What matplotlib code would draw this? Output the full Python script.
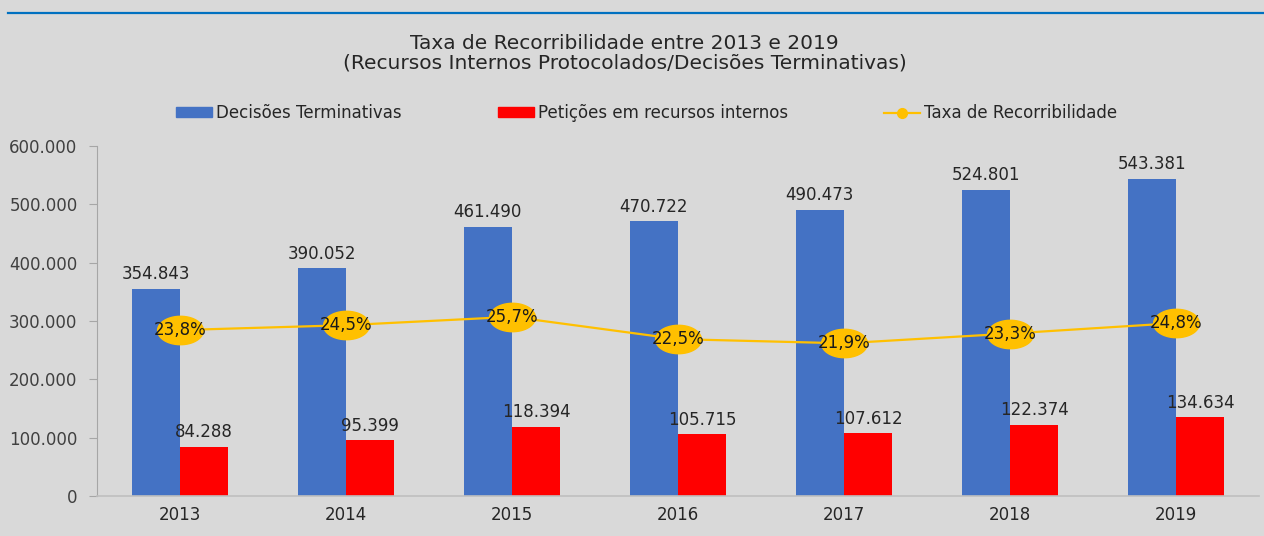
import matplotlib
matplotlib.use("Agg")
import matplotlib.pyplot as plt
from matplotlib.path import Path
from matplotlib.lines import Line2D
from matplotlib.ticker import FuncFormatter
import numpy as np

anos = ["2013", "2014", "2015", "2016", "2017", "2018", "2019"]
decisoes = [354843, 390052, 461490, 470722, 490473, 524801, 543381]
peticoes = [84288, 95399, 118394, 105715, 107612, 122374, 134634]
taxa = [23.8, 24.5, 25.7, 22.5, 21.9, 23.3, 24.8]

AZUL = "#4472C4"
VERMELHO = "#FF0000"
AMARELO = "#FFC000"
FUNDO = "#D9D9D9"


def milhar(v):
    return "{:,}".format(int(v)).replace(",", ".")


# marcador em forma de elipse (mais largo que alto)
t = np.linspace(0, 2 * np.pi, 60)
elipse = Path(np.column_stack([np.cos(t), 0.62 * np.sin(t)]), closed=True)

fig = plt.figure(figsize=(12.64, 5.36), dpi=100, facecolor=FUNDO)
ax = fig.add_axes([0.0767, 0.0746, 0.9193, 0.653])
ax.set_facecolor(FUNDO)

x = np.arange(len(anos))
w = 0.29
ax.bar(x - w, decisoes, w, align="edge", color=AZUL, label="Decisões Terminativas")
ax.bar(x, peticoes, w, align="edge", color=VERMELHO, label="Petições em recursos internos")

for i in range(len(anos)):
    ax.annotate(milhar(decisoes[i]), (x[i] - w / 2, decisoes[i]), xytext=(0, 4),
                textcoords="offset points", ha="center", va="bottom", fontsize=12, color="#262626")
    ax.annotate(milhar(peticoes[i]), (x[i] + w / 2, peticoes[i]), xytext=(0, 4),
                textcoords="offset points", ha="center", va="bottom", fontsize=12, color="#262626")

ax.set_xlim(-0.5, len(anos) - 0.5)
ax.set_ylim(0, 600000)
ax.set_yticks(np.arange(0, 600001, 100000))
ax.yaxis.set_major_formatter(FuncFormatter(lambda v, p: milhar(v)))
ax.set_xticks(x)
ax.set_xticklabels(anos)
ax.tick_params(axis="x", length=0, labelsize=12, labelcolor="#262626", pad=7)
ax.tick_params(axis="y", length=6, color="#A6A6A6", labelsize=12, labelcolor="#404040", pad=8)
for s in ["top", "right"]:
    ax.spines[s].set_visible(False)
ax.spines["left"].set_color("#A6A6A6")
ax.spines["bottom"].set_color("#BFBFBF")
ax.spines["bottom"].set_linewidth(1.2)

# taxa no eixo secundario (oculto)
ax2 = ax.twinx()
ax2.set_ylim(0, 50.2)
ax2.axis("off")
ax2.plot(x, taxa, color=AMARELO, lw=1.6, marker=elipse, markersize=33,
         markerfacecolor=AMARELO, markeredgecolor=AMARELO)
for i in range(len(anos)):
    ax2.text(x[i], taxa[i], "{:.1f}%".format(taxa[i]).replace(".", ","),
             ha="center", va="center", fontsize=12, color="#1a1a1a")

fig.text(0.494, 0.918, "Taxa de Recorribilidade entre 2013 e 2019", ha="center",
         va="center", fontsize=14.5, color="#262626")
fig.text(0.494, 0.883, "(Recursos Internos Protocolados/Decisões Terminativas)", ha="center",
         va="center", fontsize=14.5, color="#262626")

# linha azul no topo
fig.add_artist(Line2D([0.006, 1.0], [0.9757, 0.9757], color="#0070C0", lw=1.6))

handles = [
    plt.Rectangle((0, 0), 1, 1, color=AZUL),
    plt.Rectangle((0, 0), 1, 1, color=VERMELHO),
    Line2D([], [], color=AMARELO, lw=1.6, marker="o", markersize=7),
]
labels = ["Decisões Terminativas", "Petições em recursos internos", "Taxa de Recorribilidade"]
fig.legend(handles, labels, loc="center", bbox_to_anchor=(0.5115, 0.789), ncol=3, frameon=False,
           fontsize=12, labelcolor="#262626", columnspacing=5.75, handlelength=2.15,
           handleheight=0.55, handletextpad=0.25)

fig.savefig("out.png", dpi=100, facecolor=FUNDO)
